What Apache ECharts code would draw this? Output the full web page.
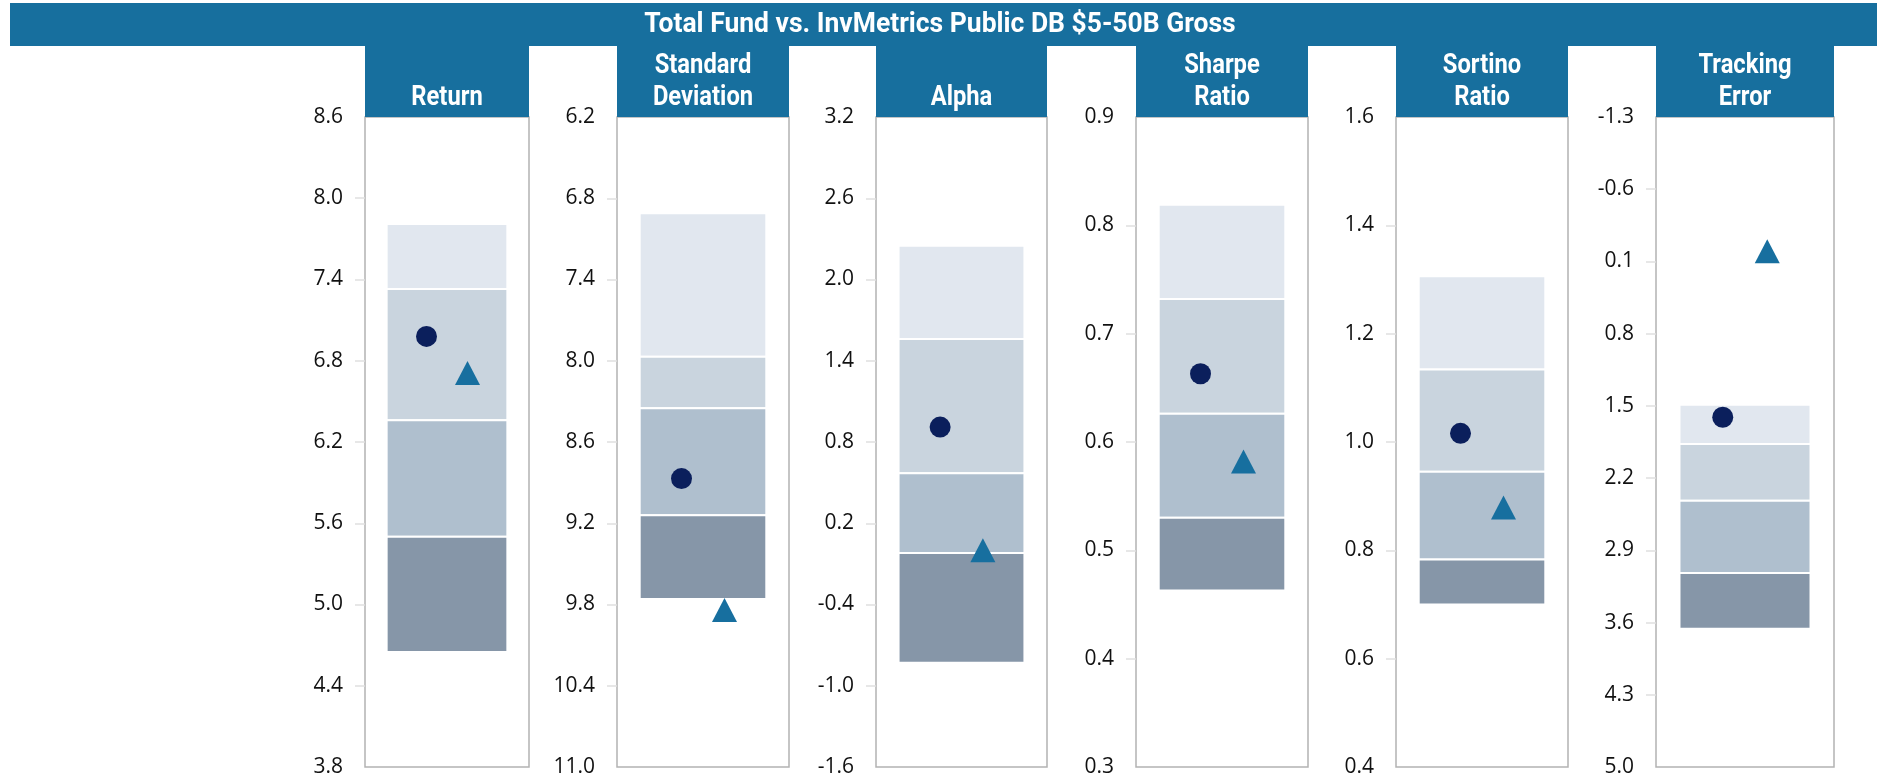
<!DOCTYPE html>
<html>
<head>
<meta charset="utf-8">
<script src="https://cdn.jsdelivr.net/npm/echarts@6/dist/echarts.min.js"></script>
<style>
html,body{margin:0;padding:0;background:#fff;}
#chart{width:1877px;height:778px;}
</style>
</head>
<body>
<div id="chart"></div>
<script>
// ---------------- data ----------------
const chartTitle = 'Total Fund vs. InvMetrics Public DB $5-50B Gross';
const categories = ['Return', 'Standard Deviation', 'Alpha', 'Sharpe Ratio', 'Sortino Ratio', 'Tracking Error'];

// universe percentile breakpoints (5th, 25th, median, 75th, 95th)
const p5  = [7.81, 6.91, 2.25, 0.819, 1.306, 1.49];
const p25 = [7.33, 7.97, 1.56, 0.732, 1.134, 1.87];
const p50 = [6.36, 8.35, 0.57, 0.626, 0.945, 2.42];
const p75 = [5.50, 9.14, -0.02, 0.530, 0.783, 3.12];
const p95 = [4.65, 9.76, -0.83, 0.463, 0.700, 3.66];

const totalFund   = [6.98, 8.87, 0.91, 0.663, 1.016, 1.61];
const policyIndex = [6.71, 9.84, 0.00, 0.582, 0.879, 0.00];

const axisMin = [3.8, 6.2, -1.6, 0.3, 0.4, -1.3];
const axisMax = [8.6, 11.0, 3.2, 0.9, 1.6, 5.0];
const axisInverse = [false, true, false, false, false, true];

const returnTicks   = [8.6, 8.0, 7.4, 6.8, 6.2, 5.6, 5.0, 4.4, 3.8];
const stdDevTicks   = [6.2, 6.8, 7.4, 8.0, 8.6, 9.2, 9.8, 10.4, 11.0];
const alphaTicks    = [3.2, 2.6, 2.0, 1.4, 0.8, 0.2, -0.4, -1.0, -1.6];
const sharpeTicks   = [0.9, 0.8, 0.7, 0.6, 0.5, 0.4, 0.3];
const sortinoTicks  = [1.6, 1.4, 1.2, 1.0, 0.8, 0.6, 0.4];
const trackingTicks = [-1.3, -0.6, 0.1, 0.8, 1.5, 2.2, 2.9, 3.6, 4.3, 5.0];
const tickLabels = [returnTicks, stdDevTicks, alphaTicks, sharpeTicks, sortinoTicks, trackingTicks];

// ---------------- layout / style ----------------
const BLUE = '#176f9e';
const bandColors = ['#e1e7ef', '#c9d4de', '#afbfce', '#8696a8'];
const boxLeft  = [365, 617, 876, 1136, 1396, 1656];
const boxWidth = [164, 172, 171, 172, 172, 178];
const BOX_TOP = 117, BOX_H = 650;
const BAND_X0 = 0.132, BAND_X1 = 0.868;
const FUND_X = 0.375, INDEX_X = 0.625;

const grids = [], xAxes = [], yAxes = [], series = [], graphics = [];

graphics.push({
  type: 'rect', shape: {x: 10, y: 3, width: 1867, height: 43},
  style: {fill: BLUE}, silent: true
});
graphics.push({
  type: 'text', x: 940, y: 25, scaleX: 0.98,
  style: {text: chartTitle, font: 'bold 27px Roboto', fill: '#fff', align: 'center', verticalAlign: 'middle'},
  silent: true
});

categories.forEach((cat, i) => {
  grids.push({
    left: boxLeft[i], top: BOX_TOP, width: boxWidth[i], height: BOX_H,
    show: true, borderColor: '#b3b3b3', borderWidth: 1.5, backgroundColor: 'transparent'
  });
  xAxes.push({
    type: 'value', gridIndex: i, min: 0, max: 1, show: false
  });
  const ticks = tickLabels[i];
  yAxes.push({
    type: 'value', gridIndex: i, min: axisMin[i], max: axisMax[i], inverse: axisInverse[i],
    offset: 2,
    axisLine: {show: false},
    splitLine: {show: false},
    axisTick: {show: true, length: 10, lineStyle: {color: '#e0e0e0', width: 1.5},
               customValues: ticks.slice(1, ticks.length - 1)},
    axisLabel: {
      customValues: ticks, margin: 20, color: '#111111', fontSize: 21, fontFamily: 'Open Sans',
      formatter: v => Number(v).toFixed(1)
    }
  });
  const edges = [p5[i], p25[i], p50[i], p75[i], p95[i]];
  const bandData = [];
  for (let b = 0; b < 4; b++) bandData.push([0.5, edges[b], edges[b + 1], b]);
  series.push({
    type: 'custom', xAxisIndex: i, yAxisIndex: i, data: bandData,
    encode: {x: 0, y: [1, 2]}, silent: true, z: 1,
    renderItem: (params, api) => {
      const a = api.coord([BAND_X0, api.value(1)]);
      const b = api.coord([BAND_X1, api.value(2)]);
      return {
        type: 'rect',
        shape: {x: Math.min(a[0], b[0]), y: Math.min(a[1], b[1]),
                width: Math.abs(b[0] - a[0]), height: Math.abs(b[1] - a[1])},
        style: {fill: bandColors[api.value(3)], stroke: '#ffffff', lineWidth: 2}
      };
    }
  });
  series.push({
    name: 'Total Fund', type: 'scatter', xAxisIndex: i, yAxisIndex: i,
    data: [[FUND_X, totalFund[i]]], symbol: 'circle', symbolSize: 21, z: 3,
    itemStyle: {color: '#0b1f5c', opacity: 1}
  });
  series.push({
    name: 'Policy Index', type: 'scatter', xAxisIndex: i, yAxisIndex: i,
    data: [[INDEX_X, policyIndex[i]]], symbol: 'triangle', symbolSize: [25, 24], z: 3,
    itemStyle: {color: '#176f9f', opacity: 1}
  });
  // header band
  graphics.push({
    type: 'rect', shape: {x: boxLeft[i], y: 45, width: boxWidth[i], height: BOX_TOP - 45},
    style: {fill: BLUE}, silent: true
  });
  graphics.push({
    type: 'text', x: boxLeft[i] + boxWidth[i] / 2, y: 114, scaleX: 0.88,
    style: {text: cat.replace(' ', '\n'), font: 'bold 27px Roboto', fill: '#fff',
            align: 'center', verticalAlign: 'bottom', lineHeight: 32},
    silent: true
  });
});

const chart = echarts.init(document.getElementById('chart'), null, {renderer: 'canvas'});
chart.setOption({
  backgroundColor: '#ffffff',
  animation: false,
  grid: grids, xAxis: xAxes, yAxis: yAxes, series: series,
  graphic: graphics
});
</script>
</body>
</html>
